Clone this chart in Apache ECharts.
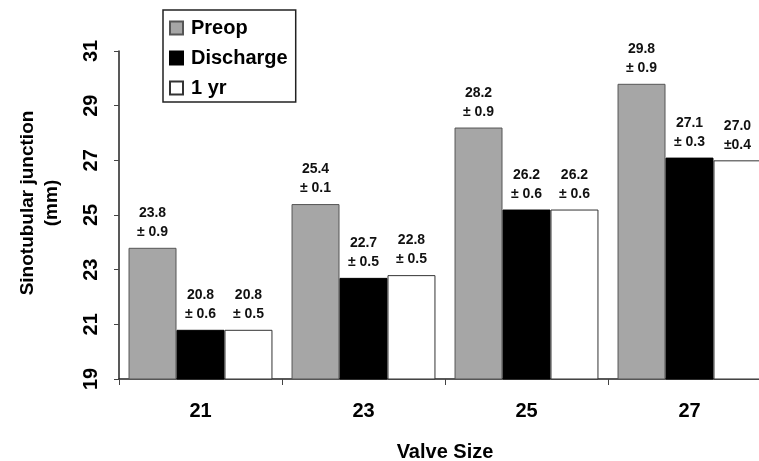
<!DOCTYPE html>
<html>
<head>
<meta charset="utf-8">
<script src="https://cdn.jsdelivr.net/npm/echarts@6/dist/echarts.min.js"></script>
<style>
html,body{margin:0;padding:0;background:#fff;}
#chart{width:759px;height:461px;}
</style>
</head>
<body>
<div id="chart"></div>
<script>
// ---- data ----
var categories = ['21', '23', '25', '27'];
var seriesNames = ['Preop', 'Discharge', '1 yr'];
var preop = [23.8, 25.4, 28.2, 29.8];
var discharge = [20.8, 22.7, 25.2, 27.1];
var oneYear = [20.8, 22.8, 25.2, 27.0];
// printed mean labels as they appear in the figure
var preopLabels = ['23.8', '25.4', '28.2', '29.8'];
var dischargeLabels = ['20.8', '22.7', '26.2', '27.1'];
var oneYearLabels = ['20.8', '22.8', '26.2', '27.0'];
var preopSD = ['± 0.9', '± 0.1', '± 0.9', '± 0.9'];
var dischargeSD = ['± 0.6', '± 0.5', '± 0.6', '± 0.3'];
var oneYearSD = ['± 0.5', '± 0.5', '± 0.6', '±0.4'];
var yTicks = [19, 21, 23, 25, 27, 29, 31];

var FONT = '"Liberation Sans", Arial, sans-serif';

function makeLabel(means, sds) {
  return {
    show: true,
    position: 'top',
    distance: 6,
    fontFamily: FONT,
    fontWeight: 'bold',
    fontSize: 14,
    lineHeight: 19,
    color: '#111',
    formatter: function (p) { return means[p.dataIndex] + '\n' + sds[p.dataIndex]; }
  };
}

var chart = echarts.init(document.getElementById('chart'), null, {renderer: 'canvas'});
chart.setOption({
  animation: false,
  backgroundColor: '#fff',
  grid: {left: 119, top: 51, width: 652, height: 328, containLabel: false, outerBoundsMode: 'none'},
  legend: {
    orient: 'vertical',
    left: 163,
    top: 10,
    padding: [8, 8, 4, 6],
    itemGap: 10,
    itemWidth: 13,
    itemHeight: 13,
    icon: 'rect',
    borderColor: '#222',
    borderWidth: 1.5,
    textStyle: {fontFamily: FONT, fontWeight: 'bold', fontSize: 20, color: '#000', padding: [0, 0, 0, 3]},
    data: seriesNames
  },
  xAxis: {
    type: 'category',
    data: categories,
    name: 'Valve Size',
    nameLocation: 'middle',
    nameGap: 63,
    nameTextStyle: {fontFamily: FONT, fontWeight: 'bold', fontSize: 20, color: '#000'},
    axisLine: {lineStyle: {color: '#222', width: 1.5}},
    axisTick: {show: true, length: 6, lineStyle: {color: '#444'}},
    axisLabel: {fontFamily: FONT, fontWeight: 'bold', fontSize: 20, color: '#000', margin: 22}
  },
  yAxis: {
    type: 'value',
    min: yTicks[0],
    max: yTicks[yTicks.length - 1],
    interval: 2,
    name: 'Sinotubular junction\n(mm)',
    nameLocation: 'middle',
    nameGap: 55,
    nameTextStyle: {fontFamily: FONT, fontWeight: 'bold', fontSize: 19, lineHeight: 24, color: '#000', padding: [0, 0, 0, 24]},
    axisLine: {show: true, lineStyle: {color: '#222', width: 1.5}},
    axisTick: {show: true, length: 5, lineStyle: {color: '#444'}},
    splitLine: {show: false},
    axisLabel: {rotate: 90, fontFamily: FONT, fontWeight: 'bold', fontSize: 20, color: '#000', margin: 18}
  },
  series: [
    {
      name: seriesNames[0], type: 'bar', data: preop,
      barGap: '0%', barCategoryGap: '11.7%',
      itemStyle: {color: '#a6a6a6', borderColor: '#555', borderWidth: 1},
      label: makeLabel(preopLabels, preopSD)
    },
    {
      name: seriesNames[1], type: 'bar', data: discharge,
      barGap: '0%', barCategoryGap: '11.7%',
      itemStyle: {color: '#000', borderColor: '#000', borderWidth: 1},
      label: makeLabel(dischargeLabels, dischargeSD)
    },
    {
      name: seriesNames[2], type: 'bar', data: oneYear,
      barGap: '0%', barCategoryGap: '11.7%',
      itemStyle: {color: '#fff', borderColor: '#333', borderWidth: 1},
      label: makeLabel(oneYearLabels, oneYearSD)
    }
  ]
});
</script>
</body>
</html>
